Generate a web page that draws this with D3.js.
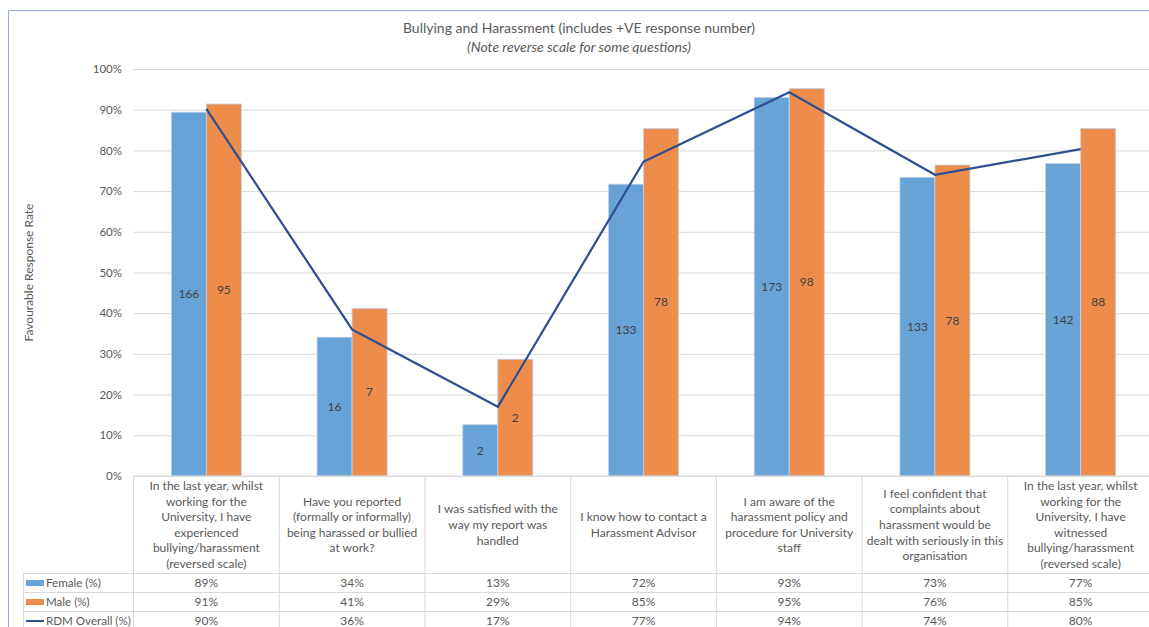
<!DOCTYPE html>
<html><head><meta charset="utf-8">
<script src="https://cdn.jsdelivr.net/npm/d3@7"></script>
<style>body{margin:0;background:#fff;overflow:hidden} text{font-family:Lato,"Open Sans",sans-serif}</style>
</head><body><svg id="c" width="1149" height="627"></svg>
<script>
const categories = [
  "In the last year, whilst\nworking for the\nUniversity, I have\nexperienced\nbullying/harassment\n(reversed scale)",
  "Have you reported\n(formally or informally)\nbeing harassed or bullied\nat work?",
  "I was satisfied with the\nway my report was\nhandled",
  "I know how to contact a\nHarassment Advisor",
  "I am aware of the\nharassment policy and\nprocedure for University\nstaff",
  "I feel confident that\ncomplaints about\nharassment would be\ndealt with seriously in this\norganisation",
  "In the last year, whilst\nworking for the\nUniversity, I have\nwitnessed\nbullying/harassment\n(reversed scale)"
];
const seriesNames = ["Female (%)", "Male (%)", "RDM Overall (%)"];
const female = [89.4, 34.1, 12.6, 71.7, 93.0, 73.4, 76.8];
const male = [91.4, 41.2, 28.7, 85.4, 95.2, 76.4, 85.4];
const overall = [90.2, 36.0, 17.0, 77.2, 94.3, 74.0, 80.3];
const femaleCounts = [166, 16, 2, 133, 173, 133, 142];
const maleCounts = [95, 7, 2, 78, 98, 78, 88];
const yTicks = [0, 10, 20, 30, 40, 50, 60, 70, 80, 90, 100];
const titleText = "Bullying and Harassment (includes +VE response number)";
const subtitleText = "(Note reverse scale for some questions)";
const yAxisTitle = "Favourable Response Rate";

const colors = {female: "#68a3d7", male: "#ee8d4b", line: "#2f4f8f", text: "#595959", grid: "#d9d9d9", border: "#8eaadb"};
const svg = d3.select("#c");

const plotL = 133.5, plotR = 1153.5, plotT = 69, plotB = 476;
const x = d3.scaleBand().domain(d3.range(categories.length)).range([plotL, plotR]);
const xs = d3.scaleBand().domain(["f", "m"]).range([0, x.bandwidth()]).paddingOuter(1.08);
const y = d3.scaleLinear().domain([0, 100]).range([plotB, plotT]);

// chart border (top & left visible)
svg.append("line").attr("x1", 8.5).attr("x2", 1149).attr("y1", 10.5).attr("y2", 10.5).attr("stroke", colors.border).attr("stroke-width", 1);
svg.append("line").attr("x1", 8.5).attr("x2", 8.5).attr("y1", 10.5).attr("y2", 627).attr("stroke", colors.border).attr("stroke-width", 1);

// title
svg.append("text").attr("x", 579).attr("y", 33).attr("text-anchor", "middle").attr("fill", colors.text).style("font-size", "14px").text(titleText);
svg.append("text").attr("x", 579).attr("y", 52).attr("text-anchor", "middle").attr("fill", colors.text).style("font-size", "14px").style("font-style", "italic").text(subtitleText);

// y axis + gridlines
const yAxis = svg.append("g").attr("transform", `translate(${plotL},0)`)
  .call(d3.axisLeft(y).tickValues(yTicks).tickSize(-(plotR - plotL)).tickPadding(11.5).tickFormat(d => d + "%"));
yAxis.select(".domain").remove();
yAxis.selectAll(".tick line").attr("stroke", colors.grid);
yAxis.selectAll(".tick text").attr("fill", colors.text).style("font-size", "11.5px").style("font-family", "Lato");

svg.append("text").attr("transform", `translate(33,${(plotT + plotB) / 2}) rotate(-90)`)
  .attr("text-anchor", "middle").attr("fill", colors.text).style("font-size", "12px").text(yAxisTitle);

// bars
const barData = [];
categories.forEach((c, i) => {
  barData.push({i, key: "f", v: female[i], n: femaleCounts[i], color: colors.female});
  barData.push({i, key: "m", v: male[i], n: maleCounts[i], color: colors.male});
});
svg.append("g").selectAll("rect").data(barData).join("rect")
  .attr("x", d => x(d.i) + xs(d.key)).attr("width", xs.bandwidth())
  .attr("y", d => y(d.v)).attr("height", d => y(0) - y(d.v))
  .attr("fill", d => d.color).attr("stroke", "#c3d1ea").attr("stroke-width", 0.8);

svg.append("g").selectAll("text").data(barData).join("text")
  .attr("x", d => x(d.i) + xs(d.key) + xs.bandwidth() / 2)
  .attr("y", d => (y(0) + y(d.v)) / 2).attr("dy", "0.35em")
  .attr("text-anchor", "middle").attr("fill", "#404040").style("font-size", "12px").text(d => d.n);

// line
const line = d3.line().x((d, i) => x(i) + x.bandwidth() / 2).y(d => y(d));
svg.append("path").datum(overall).attr("d", line).attr("fill", "none").attr("stroke", colors.line).attr("stroke-width", 2.25).attr("stroke-linejoin", "round");

// data table
const tCatBottom = 573.5, rowH = 19, tableL = 23.5;
const rowsY = [tCatBottom, tCatBottom + rowH, tCatBottom + 2 * rowH];
const tg = svg.append("g").attr("stroke", colors.grid).attr("stroke-width", 1);
x.domain().forEach(i => tg.append("line").attr("x1", x(i)).attr("x2", x(i)).attr("y1", plotB).attr("y2", 627));
tg.append("line").attr("x1", plotR).attr("x2", plotR).attr("y1", plotB).attr("y2", 627);
tg.append("line").attr("x1", tableL).attr("x2", tableL).attr("y1", tCatBottom).attr("y2", 627);
rowsY.forEach(ry => tg.append("line").attr("x1", tableL).attr("x2", plotR).attr("y1", ry).attr("y2", ry));
tg.append("line").attr("x1", plotL).attr("x2", plotR).attr("y1", plotB).attr("y2", plotB);

// category labels
const lh = 15.6, catMid = (plotB + tCatBottom) / 2;
categories.forEach((c, i) => {
  const lines = c.split("\n");
  const t = svg.append("text").attr("text-anchor", "middle").attr("fill", colors.text).style("font-size", "12px");
  lines.forEach((ln, k) => {
    t.append("tspan").attr("x", x(i) + x.bandwidth() / 2)
      .attr("y", catMid + (k - (lines.length - 1) / 2) * lh).attr("dy", "0.35em").text(ln);
  });
});

// table rows
const seriesVals = [female, male, overall];
seriesVals.forEach((vals, r) => {
  const cy = rowsY[r] + rowH / 2;
  vals.forEach((v, i) => {
    svg.append("text").attr("x", x(i) + x.bandwidth() / 2).attr("y", cy).attr("dy", "0.35em")
      .attr("text-anchor", "middle").attr("fill", colors.text).style("font-size", "12px").text(Math.round(v) + "%");
  });
  if (r < 2) {
    svg.append("rect").attr("x", 26).attr("y", cy - 3).attr("width", 18).attr("height", 6).attr("fill", r === 0 ? colors.female : colors.male);
  } else {
    svg.append("line").attr("x1", 26).attr("x2", 44).attr("y1", cy).attr("y2", cy).attr("stroke", colors.line).attr("stroke-width", 2);
  }
  svg.append("text").attr("x", 46).attr("y", cy).attr("dy", "0.35em").attr("fill", colors.text).style("font-size", "11.6px").text(seriesNames[r]);
});
</script></body></html>
